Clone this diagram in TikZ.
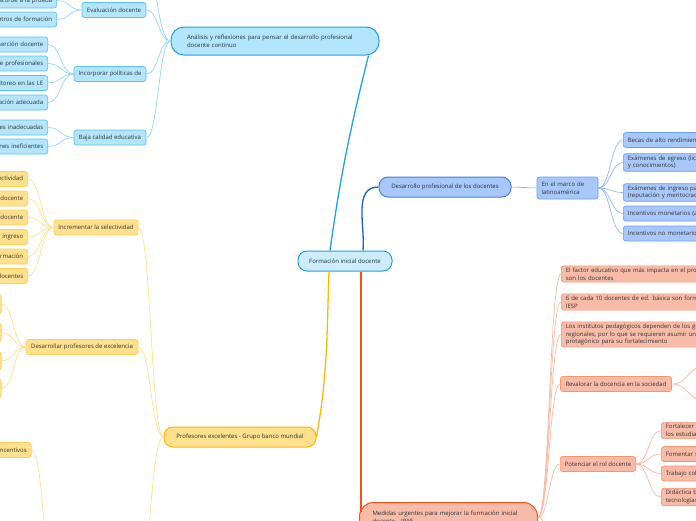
\documentclass[tikz,border=0pt]{standalone}
\usepackage{fontspec}
\setmainfont{Open Sans}
\usetikzlibrary{calc}

\definecolor{cyline}{HTML}{1EA1E6}
\definecolor{cyfill}{HTML}{B3E5FC}
\definecolor{cyedge}{HTML}{5BC2F2}
\definecolor{cylight}{HTML}{92D6F8}
\definecolor{rootfill}{HTML}{CDEDFC}
\definecolor{buline}{HTML}{1A5FD0}
\definecolor{bufill}{HTML}{A8C7FA}
\definecolor{buedge}{HTML}{6E9EF0}
\definecolor{bulight}{HTML}{90B6F6}
\definecolor{yeline}{HTML}{FFB703}
\definecolor{yefill}{HTML}{FEE08D}
\definecolor{yeedge}{HTML}{FFCF5A}
\definecolor{yelight}{HTML}{FFE08A}
\definecolor{orline}{HTML}{F4511E}
\definecolor{orfill}{HTML}{F8BBA8}
\definecolor{oredge}{HTML}{F59473}
\definecolor{orlight}{HTML}{F9B8A0}
\definecolor{topictxt}{HTML}{22343A}
\definecolor{txt}{HTML}{333333}

\tikzset{
  link/.style={to path={let \p1=(\tikztostart), \p2=(\tikztotarget) in
    .. controls ({0.5*\x1+0.5*\x2},\y1) and ({0.5*\x1+0.5*\x2},\y2) .. (\tikztotarget)}},
  box/.style={draw, rounded corners=2.5pt, line width=0.7pt, minimum height=15pt,
    inner xsep=4.5pt, inner ysep=2pt, text=txt, font=\fontsize{6}{7.6}\selectfont},
  topic/.style={box, rounded corners=9pt, line width=1pt, text=topictxt},
  cutl/.style={anchor=east, text width=150pt, align=right},
  cutr/.style={anchor=west, text width=230pt, align=left},
  cy/.style={fill=cyfill, draw=cyedge},
  bu/.style={fill=bufill, draw=buedge},
  ye/.style={fill=yefill, draw=yeedge},
  or/.style={fill=orfill, draw=oredge},
  cywire/.style={draw=cylight, line width=0.7pt},
  buwire/.style={draw=bulight, line width=0.7pt},
  yewire/.style={draw=yelight, line width=0.7pt},
  orwire/.style={draw=orlight, line width=0.7pt}
}

\begin{document}
\begin{tikzpicture}[x=1pt, y=-1pt]
\useasboundingbox (0,0) rectangle (696,520);
\clip (0,0) rectangle (696,520);

% central topic and main branches
\node[topic, fill=rootfill, draw=cyline, minimum width=94pt, minimum height=20pt] (root) at (345,261) {Formación inicial docente};
\node[topic, fill=cyfill, draw=cyline, text width=176pt, inner xsep=16pt, align=left, minimum height=28pt, rounded corners=13pt] (ana) at (275,41) {Análisis y reflexiones para pensar el desarrollo profesional\\docente continuo};
\node[topic, fill=bufill, draw=buline!80, minimum width=132pt, minimum height=20pt] (dpd) at (445,187) {Desarrollo profesional de los docentes};
\node[topic, fill=yefill, draw=yeline, minimum width=152pt, minimum height=20pt] (pex) at (240,437) {Profesores excelentes - Grupo banco mundial};
\node[topic, fill=orfill, draw=orline, text width=152pt, inner xsep=13pt, align=left, minimum height=30pt, rounded corners=14pt, anchor=north west] (med) at (359,502) {Medidas urgentes para mejorar la formación inicial\\docente - IPAE};

\draw[cyline, line width=1.3pt] ([xshift=-15pt]root.north) to[out=82,in=-104] ([xshift=-11pt]ana.south east);
\draw[buline, line width=1.3pt] ([xshift=18pt]root.north) to[out=85,in=180] (dpd.west);
\draw[yeline, line width=1.3pt] ([xshift=-16pt]root.south) to[out=-92,in=80] (pex.east);
\draw[orline, line width=1.3pt] ([xshift=16pt]root.south) to[out=-90,in=90] ([xshift=2pt,yshift=6pt]med.west);

% analisis
\node[box, cy, minimum width=64pt] (eval) at (114,10) {Evaluación docente};
\node[box, cy, minimum width=72pt] (incp) at (110,74) {Incorporar políticas de};
\node[box, cy, minimum width=72pt] (baja) at (110,137.5) {Baja calidad educativa};
\node[box, cy, cutl] (ev1) at (57,0.5) {Evaluación de ingreso acorde a la prueba};
\node[box, cy, cutl] (ev2) at (57,19.5) {Acreditación de centros de formación};
\node[box, cy, cutl] (in1) at (48,44.5) {Políticas de inserción docente};
\node[box, cy, cutl] (in2) at (48,63.5) {Formación de profesionales};
\node[box, cy, cutl] (in3) at (48,83) {Sistema de monitoreo en las LE};
\node[box, cy, cutl] (in4) at (48,102.5) {Remuneración adecuada};
\node[box, cy, cutl] (ba1) at (48,127.5) {Condiciones inadecuadas};
\node[box, cy, cutl] (ba2) at (48,146.5) {Gestiones ineficientes};
\coordinate (anaup) at (143,-40);

\draw[cywire] (ana.west) to[link] (eval.east) (ana.west) to[link] (incp.east)
  (ana.west) to[link] (baja.east) (ana.west) to[link] (anaup);
\draw[cywire] (eval.west) to[link] (ev1.east) (eval.west) to[link] (ev2.east);
\foreach \k in {in1,in2,in3,in4} \draw[cywire] (incp.west) to[link] (\k.east);
\foreach \k in {ba1,ba2} \draw[cywire] (baja.west) to[link] (\k.east);

% desarrollo profesional
\node[box, bu, text width=52pt, align=left, minimum height=22pt] (marco) at (567.5,188) {En el marco de\\latinoamérica};
\node[box, bu, cutr] (bu1) at (623,140) {Becas de alto rendimiento};
\node[box, bu, cutr] (bu2) at (623,162.5) {Exámenes de egreso (licenciatura, habilidades\\y conocimientos)};
\node[box, bu, cutr] (bu3) at (623,192.5) {Exámenes de ingreso para la carrera\\(reputación y meritocracia)};
\node[box, bu, cutr] (bu4) at (623,213.5) {Incentivos monetarios (aumento salarial)};
\node[box, bu, cutr] (bu5) at (623,233.5) {Incentivos no monetarios};

\draw[buwire] (dpd.east) -- (marco.west);
\foreach \k in {bu1,bu2,bu3,bu4,bu5} \draw[buwire] (marco.east) to[link] (\k.west);

% profesores excelentes
\node[box, ye, minimum width=84pt] (incr) at (96,227.5) {Incrementar la selectividad};
\node[box, ye, minimum width=112pt] (desa) at (82,347) {Desarrollar profesores de excelencia};
\node[box, ye, cutl] (se1) at (28,179) {Mayor selectividad};
\node[box, ye, cutl] (se2) at (28,198.5) {Vocación docente};
\node[box, ye, cutl] (se3) at (28,217.5) {Carrera docente};
\node[box, ye, cutl] (se4) at (28,237) {Examen de ingreso};
\node[box, ye, cutl] (se5) at (28,256.5) {Centros de formación};
\node[box, ye, cutl] (se6) at (28,276) {Formadores de docentes};
\node[box, ye, anchor=east, minimum width=60pt, minimum height=19pt] (de1) at (1.5,304) {};
\node[box, ye, anchor=east, minimum width=60pt, minimum height=19pt] (de2) at (1.5,332.5) {};
\node[box, ye, anchor=east, minimum width=60pt, minimum height=19pt] (de3) at (1.5,361) {};
\node[box, ye, anchor=east, minimum width=60pt, minimum height=19pt] (de4) at (1.5,388.5) {};
\node[box, ye, cutl] (inc) at (31.5,450) {Sistema de incentivos};
\coordinate (pexdn) at (136,600);
\coordinate (incdn) at (57,600);

\draw[yewire] (pex.west) to[link] (incr.east) (pex.west) to[link] (desa.east)
  (pex.west) to[link] (pexdn);
\foreach \k in {se1,se2,se3,se4,se5,se6} \draw[yewire] (incr.west) to[link] (\k.east);
\foreach \k in {de1,de2,de3,de4} \draw[yewire] (desa.west) to[link] (\k.east);
\draw[yewire] (inc.east) to[link] (incdn);

% medidas urgentes
\node[box, or, cutr] (f1) at (561,274) {El factor educativo que más impacta en el proceso de aprendizaje\\son los docentes};
\node[box, or, cutr] (f2) at (561,302) {6 de cada 10 docentes de ed. básica son formados en los\\IESP};
\node[box, or, cutr] (f3) at (561,334.5) {Los institutos pedagógicos dependen de los gobiernos\\regionales, por lo que se requieren asumir un rol\\protagónico para su fortalecimiento};
\node[box, or, minimum width=111pt] (reval) at (616,384) {Revalorar la docencia en la sociedad};
\node[box, or, minimum width=75pt] (poten) at (598,464) {Potenciar el rol docente};
\node[box, or, cutr] (po1) at (661,430.5) {Fortalecer la formación de\\los estudiantes};
\node[box, or, cutr] (po2) at (661,454) {Fomentar su autonomía};
\node[box, or, cutr] (po3) at (661,473.5) {Trabajo colaborativo};
\node[box, or, cutr] (po4) at (661,497) {Didáctica basada en\\tecnologías};
\coordinate (rv1) at (705,366);
\coordinate (rv2) at (705,401);
\coordinate (meddn) at (561,560);

\foreach \k in {f1,f2,f3,reval,poten,meddn} \draw[orwire] (med.east) to[link] (\k.west);
\draw[orwire] (reval.east) to[link] (rv1) (reval.east) to[link] (rv2);
\foreach \k in {po1,po2,po3,po4} \draw[orwire] (poten.east) to[link] (\k.west);
\end{tikzpicture}
\end{document}
